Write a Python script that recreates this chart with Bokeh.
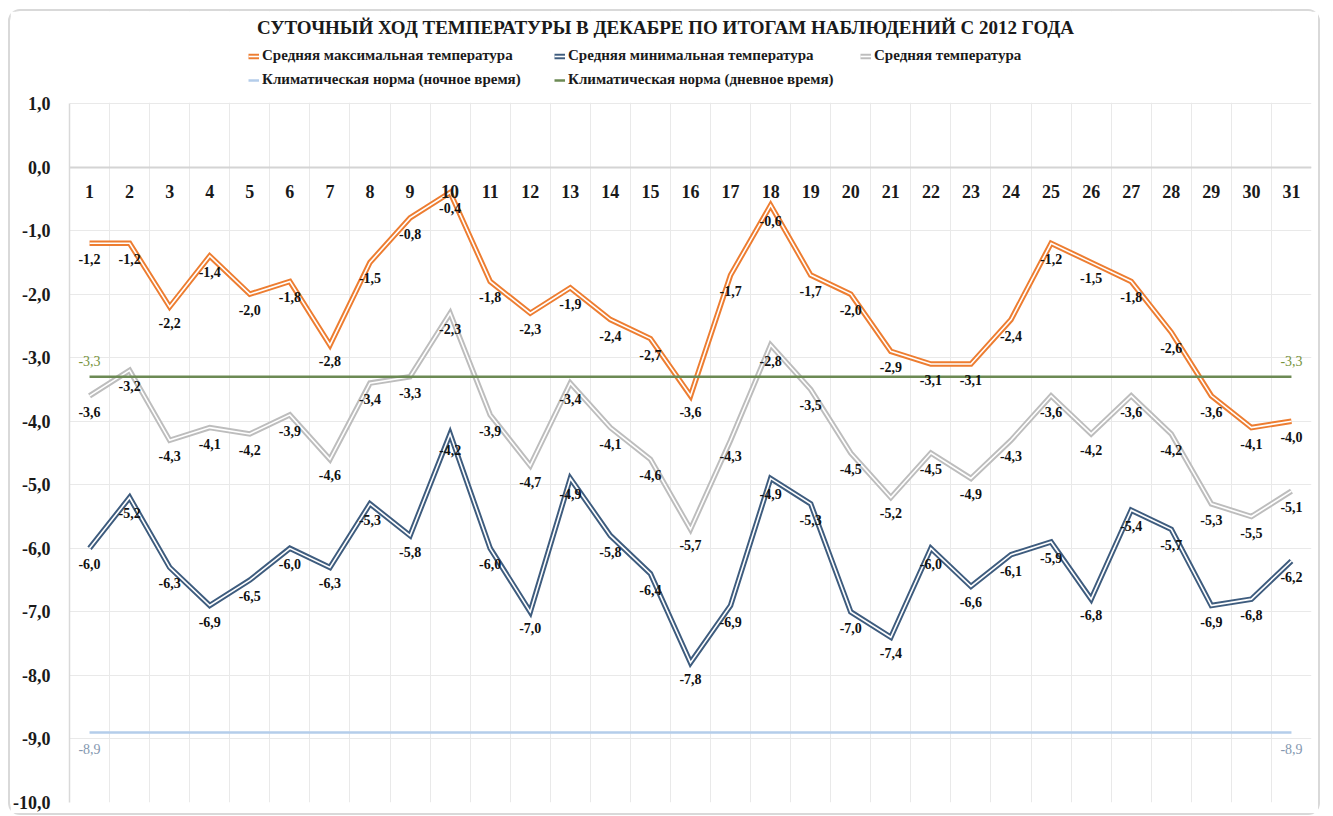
from bokeh.plotting import figure
from bokeh.models import (Range1d, FixedTicker, CustomJSTickFormatter, Legend,
                          LegendItem, ColumnDataSource, Label, BoxAnnotation)
from bokeh.core.properties import value
from bokeh.embed import file_html
from bokeh.resources import INLINE

# ---------------- data ----------------
days = list(range(1, 32))
t_max = [-1.2, -1.2, -2.2, -1.4, -2.0, -1.8, -2.8, -1.5, -0.8, -0.4, -1.8, -2.3, -1.9, -2.4, -2.7, -3.6,
         -1.7, -0.6, -1.7, -2.0, -2.9, -3.1, -3.1, -2.4, -1.2, -1.5, -1.8, -2.6, -3.6, -4.1, -4.0]
t_min = [-6.0, -5.2, -6.3, -6.9, -6.5, -6.0, -6.3, -5.3, -5.8, -4.2, -6.0, -7.0, -4.9, -5.8, -6.4, -7.8,
         -6.9, -4.9, -5.3, -7.0, -7.4, -6.0, -6.6, -6.1, -5.9, -6.8, -5.4, -5.7, -6.9, -6.8, -6.2]
t_avg = [-3.6, -3.2, -4.3, -4.1, -4.2, -3.9, -4.6, -3.4, -3.3, -2.3, -3.9, -4.7, -3.4, -4.1, -4.6, -5.7,
         -4.3, -2.8, -3.5, -4.5, -5.2, -4.5, -4.9, -4.3, -3.6, -4.2, -3.6, -4.2, -5.3, -5.5, -5.1]
norm_day = -3.3
norm_night = -8.9
y_ticks = [1.0, 0.0, -1.0, -2.0, -3.0, -4.0, -5.0, -6.0, -7.0, -8.0, -9.0, -10.0]

TITLE = "СУТОЧНЫЙ ХОД ТЕМПЕРАТУРЫ В ДЕКАБРЕ ПО ИТОГАМ НАБЛЮДЕНИЙ С 2012 ГОДА"
names = ["Средняя максимальная температура",
         "Средняя минимальная температура",
         "Средняя температура",
         "Климатическая норма (ночное время)",
         "Климатическая норма (дневное время)"]

# ---------------- styling ----------------
SERIF = value("Liberation Serif")
C_MAX = "#ed7d31"
C_MIN = "#3e5c7e"
C_AVG = "#bdbdbd"
C_NIGHT = "#b4cdea"
C_DAY = "#6c8a54"


def fmt(v):
    return f"{v:.1f}".replace(".", ",")


y_top = y_ticks[0]
y_bottom = y_ticks[-1]
# frame also hosts the title/legend strip above the top gridline
p = figure(width=1312, height=806, x_range=Range1d(0.5, 31.5), y_range=Range1d(y_bottom, 2.448),
           output_backend="svg", toolbar_location=None,
           min_border_left=57, min_border_right=11, min_border_top=0, min_border_bottom=15)
p.title.visible = False
p.outline_line_color = None
p.background_fill_color = "white"
p.border_fill_color = "white"
p.styles = {"margin-left": "8px", "margin-top": "9px",
            "border": "2px solid #d9d9d9", "border-radius": "12px"}

# x axis drawn at y = 0
p.xaxis.fixed_location = 0
p.xaxis.ticker = FixedTicker(ticks=days)
p.xaxis.axis_line_color = "#d4d4d4"
p.xaxis.axis_line_width = 2
p.xaxis.major_tick_line_color = None
p.xaxis.minor_tick_line_color = None
p.xaxis.major_label_text_font = "Liberation Serif"
p.xaxis.major_label_text_font_style = "bold"
p.xaxis.major_label_text_font_size = "18px"
p.xaxis.major_label_text_color = "#1a1a1a"
p.xaxis.major_label_standoff = 12

p.yaxis.ticker = FixedTicker(ticks=y_ticks)
p.yaxis.bounds = (y_bottom, y_top)
p.yaxis.formatter = CustomJSTickFormatter(code="return tick.toFixed(1).replace('.', ',');")
p.yaxis.axis_line_color = "#d9d9d9"
p.yaxis.axis_line_width = 1.5
p.yaxis.major_tick_line_color = None
p.yaxis.minor_tick_line_color = None
p.yaxis.major_label_text_font = "Liberation Serif"
p.yaxis.major_label_text_font_style = "bold"
p.yaxis.major_label_text_font_size = "18px"
p.yaxis.major_label_text_color = "#1a1a1a"
p.yaxis.major_label_standoff = 13

p.xgrid.ticker = FixedTicker(ticks=[d + 0.5 for d in days])
p.xgrid.grid_line_color = "#e9e9e9"
p.ygrid.ticker = FixedTicker(ticks=y_ticks)
p.ygrid.grid_line_color = "#e9e9e9"

# white strip hiding vertical gridlines above the top gridline
p.add_layout(BoxAnnotation(bottom=y_top + 0.012, fill_color="white", fill_alpha=1,
                           line_color=None, level="underlay"))

# ---------------- lines ----------------
renderers = []
for vals, col in [(t_max, C_MAX), (t_min, C_MIN), (t_avg, C_AVG)]:
    r1 = p.line(days, vals, line_color=col, line_width=5.5, line_join="miter")
    r2 = p.line(days, vals, line_color="white", line_width=1.6, line_join="miter")
    renderers.append([r1, r2])

night_vals = [norm_night for _ in days]
day_vals = [norm_day for _ in days]
r_night = p.line(days, night_vals, line_color=C_NIGHT, line_width=2.5)
r_day = p.line(days, day_vals, line_color=C_DAY, line_width=2.5)
renderers.append([r_night])
renderers.append([r_day])

# ---------------- data labels ----------------
for vals in (t_max, t_avg, t_min):
    src = ColumnDataSource(dict(x=days, y=vals, t=[fmt(v) for v in vals]))
    p.text(x="x", y="y", text="t", source=src, text_align="center", text_baseline="middle",
           y_offset=16, text_font=SERIF, text_font_style="bold", text_font_size="14px",
           text_color="#111111")

ends = [days[0], days[-1]]
src_d = ColumnDataSource(dict(x=ends, y=[norm_day] * 2, t=[fmt(norm_day)] * 2))
p.text(x="x", y="y", text="t", source=src_d, text_align="center", text_baseline="middle",
       y_offset=-16, text_font=SERIF, text_font_size="14px", text_color="#76933c")
src_n = ColumnDataSource(dict(x=ends, y=[norm_night] * 2, t=[fmt(norm_night)] * 2))
p.text(x="x", y="y", text="t", source=src_n, text_align="center", text_baseline="middle",
       y_offset=16, text_font=SERIF, text_font_size="14px", text_color="#8497b0")

# ---------------- title ----------------
p.add_layout(Label(x=596, y=775, x_units="screen", y_units="screen", text=TITLE,
                   text_align="center", text_baseline="middle", text_font="Liberation Serif",
                   text_font_style="bold", text_font_size="19px", text_color="#1a1a1a"))

# ---------------- legend (filled column by column: 2 rows x 3 columns) ----------------
items = [LegendItem(label=n, renderers=r) for n, r in zip(names, renderers)]
order = [0, 3, 1, 4, 2]
legend = Legend(items=[items[i] for i in order],
                location=(179, 714), ncols=3, padding=0, margin=0, spacing=7,
                glyph_width=11, glyph_height=16, label_height=16, label_width=285,
                label_standoff=3, border_line_color=None, background_fill_alpha=0,
                label_text_font="Liberation Serif", label_text_font_style="bold",
                label_text_font_size="15px", label_text_color="#1a1a1a")
p.add_layout(legend, "center")

open("out.html", "w").write(file_html(p, INLINE))
